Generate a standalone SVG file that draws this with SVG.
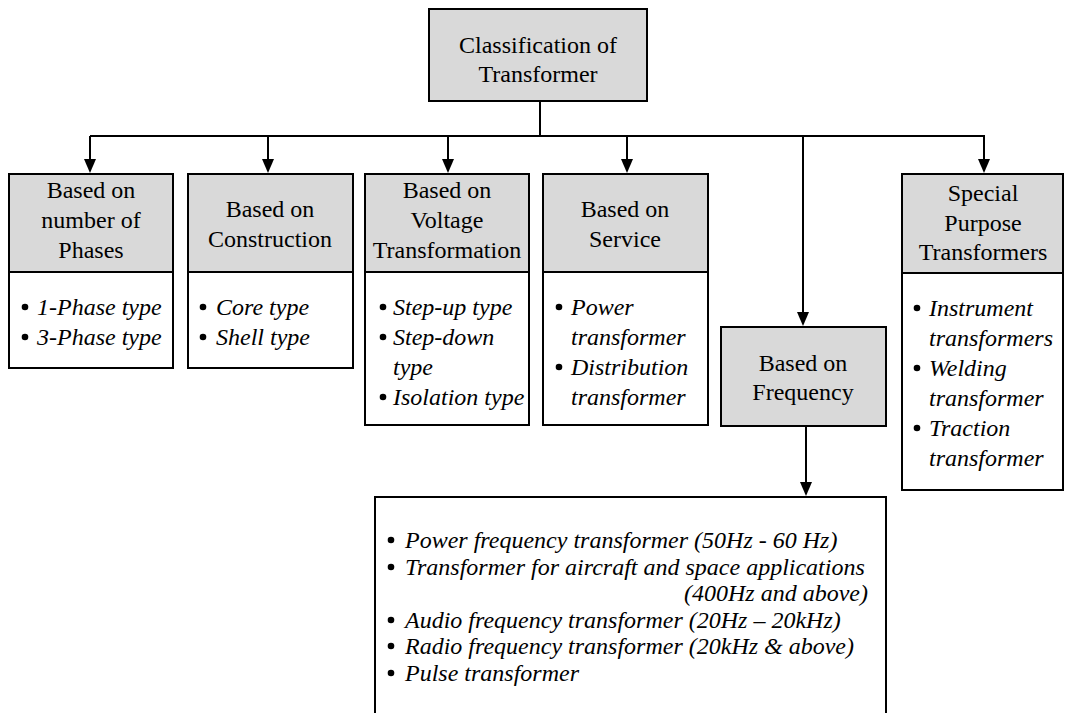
<svg xmlns="http://www.w3.org/2000/svg" width="1065" height="713" viewBox="0 0 1065 713">
  <rect width="1065" height="713" fill="#fff"/>

  <!-- connectors: lines with filled triangular heads -->
  <g id="connectors">
    <g fill="none" stroke="#000" stroke-width="2">
      <path d="M540,101 V136"/>
      <path d="M90,136 H985"/>
      <path d="M90,136 V162"/>
      <path d="M268,136 V162"/>
      <path d="M448,136 V162"/>
      <path d="M627,136 V162"/>
      <path d="M803,136 V315"/>
      <path d="M984,136 V162"/>
      <path d="M806,426 V485"/>
    </g>
    <g fill="#000">
      <polygon points="84,159 96,159 90,173"/>
      <polygon points="262,159 274,159 268,173"/>
      <polygon points="442,159 454,159 448,173"/>
      <polygon points="621,159 633,159 627,173"/>
      <polygon points="797,312 809,312 803,326"/>
      <polygon points="978,159 990,159 984,173"/>
      <polygon points="800,482 812,482 806,496"/>
    </g>
  </g>

  <!-- boxes -->
  <g stroke="#000" stroke-width="2">
    <g id="root-box"><rect x="429" y="9" width="218" height="92" fill="#d9d9d9"/></g>
    <g id="phases-box">
      <rect x="9" y="174" width="164" height="98" fill="#d9d9d9"/>
      <rect x="9" y="272" width="164" height="96" fill="#fff"/>
    </g>
    <g id="construction-box">
      <rect x="188" y="174" width="165" height="98" fill="#d9d9d9"/>
      <rect x="188" y="272" width="165" height="96" fill="#fff"/>
    </g>
    <g id="voltage-box">
      <rect x="365" y="174" width="164" height="98" fill="#d9d9d9"/>
      <rect x="365" y="272" width="164" height="153" fill="#fff"/>
    </g>
    <g id="service-box">
      <rect x="543" y="174" width="165" height="98" fill="#d9d9d9"/>
      <rect x="543" y="272" width="165" height="153" fill="#fff"/>
    </g>
    <g id="frequency-box"><rect x="721" y="327" width="165" height="99" fill="#d9d9d9"/></g>
    <g id="special-box">
      <rect x="902" y="174" width="161" height="99" fill="#d9d9d9"/>
      <rect x="902" y="273" width="161" height="217" fill="#fff"/>
    </g>
    <g id="frequency-types-box"><path d="M375,720 V497 H886 V720" fill="#fff"/></g>
  </g>

  <!-- bullets -->
  <g id="bullets" fill="#000">
    <circle cx="25" cy="307" r="3.3"/>
    <circle cx="25" cy="337" r="3.3"/>
    <circle cx="203" cy="307" r="3.3"/>
    <circle cx="203" cy="337" r="3.3"/>
    <circle cx="383" cy="307" r="3.3"/>
    <circle cx="383" cy="337" r="3.3"/>
    <circle cx="383" cy="397" r="3.3"/>
    <circle cx="559" cy="307" r="3.3"/>
    <circle cx="559" cy="367" r="3.3"/>
    <circle cx="917" cy="308" r="3.3"/>
    <circle cx="917" cy="368" r="3.3"/>
    <circle cx="917" cy="428" r="3.3"/>
    <circle cx="391" cy="540" r="3.3"/>
    <circle cx="391" cy="567" r="3.3"/>
    <circle cx="391" cy="620" r="3.3"/>
    <circle cx="391" cy="646" r="3.3"/>
    <circle cx="391" cy="673" r="3.3"/>
  </g>

  <!-- labels -->
  <g font-size="24">
    <text x="538" y="53" font-family="Liberation Serif" text-anchor="middle">Classification of</text>
    <text x="538" y="82" font-family="Liberation Serif" text-anchor="middle">Transformer</text>

    <text x="91" y="198" font-family="Liberation Serif" text-anchor="middle">Based on</text>
    <text x="91" y="228" font-family="Liberation Serif" text-anchor="middle">number of</text>
    <text x="91" y="258" font-family="Liberation Serif" text-anchor="middle">Phases</text>
    <text x="37" y="315" font-family="Liberation Serif" font-style="italic">1-Phase type</text>
    <text x="37" y="345" font-family="Liberation Serif" font-style="italic">3-Phase type</text>

    <text x="270" y="217" font-family="Liberation Serif" text-anchor="middle">Based on</text>
    <text x="270" y="247" font-family="Liberation Serif" text-anchor="middle">Construction</text>
    <text x="216" y="315" font-family="Liberation Serif" font-style="italic">Core type</text>
    <text x="216" y="345" font-family="Liberation Serif" font-style="italic">Shell type</text>

    <text x="447" y="198" font-family="Liberation Serif" text-anchor="middle">Based on</text>
    <text x="447" y="228" font-family="Liberation Serif" text-anchor="middle">Voltage</text>
    <text x="447" y="258" font-family="Liberation Serif" text-anchor="middle">Transformation</text>
    <text x="393" y="315" font-family="Liberation Serif" font-style="italic">Step-up type</text>
    <text x="393" y="345" font-family="Liberation Serif" font-style="italic">Step-down</text>
    <text x="393" y="375" font-family="Liberation Serif" font-style="italic">type</text>
    <text x="393" y="405" font-family="Liberation Serif" font-style="italic">Isolation type</text>

    <text x="625" y="217" font-family="Liberation Serif" text-anchor="middle">Based on</text>
    <text x="625" y="247" font-family="Liberation Serif" text-anchor="middle">Service</text>
    <text x="571" y="315" font-family="Liberation Serif" font-style="italic">Power</text>
    <text x="571" y="345" font-family="Liberation Serif" font-style="italic">transformer</text>
    <text x="571" y="375" font-family="Liberation Serif" font-style="italic">Distribution</text>
    <text x="571" y="405" font-family="Liberation Serif" font-style="italic">transformer</text>

    <text x="803" y="371" font-family="Liberation Serif" text-anchor="middle">Based on</text>
    <text x="803" y="400" font-family="Liberation Serif" text-anchor="middle">Frequency</text>

    <text x="983" y="201" font-family="Liberation Serif" text-anchor="middle">Special</text>
    <text x="983" y="231" font-family="Liberation Serif" text-anchor="middle">Purpose</text>
    <text x="983" y="260" font-family="Liberation Serif" text-anchor="middle">Transformers</text>
    <text x="929" y="316" font-family="Liberation Serif" font-style="italic">Instrument</text>
    <text x="929" y="346" font-family="Liberation Serif" font-style="italic">transformers</text>
    <text x="929" y="376" font-family="Liberation Serif" font-style="italic">Welding</text>
    <text x="929" y="406" font-family="Liberation Serif" font-style="italic">transformer</text>
    <text x="929" y="436" font-family="Liberation Serif" font-style="italic">Traction</text>
    <text x="929" y="466" font-family="Liberation Serif" font-style="italic">transformer</text>

    <text x="405" y="548" font-family="Liberation Serif" font-style="italic">Power frequency transformer (50Hz - 60 Hz)</text>
    <text x="405" y="575" font-family="Liberation Serif" font-style="italic">Transformer for aircraft and space applications</text>
    <text x="868" y="601" font-family="Liberation Serif" font-style="italic" text-anchor="end">(400Hz and above)</text>
    <text x="405" y="628" font-family="Liberation Serif" font-style="italic">Audio frequency transformer (20Hz – 20kHz)</text>
    <text x="405" y="654" font-family="Liberation Serif" font-style="italic">Radio frequency transformer (20kHz &amp; above)</text>
    <text x="405" y="681" font-family="Liberation Serif" font-style="italic">Pulse transformer</text>
  </g>
</svg>
